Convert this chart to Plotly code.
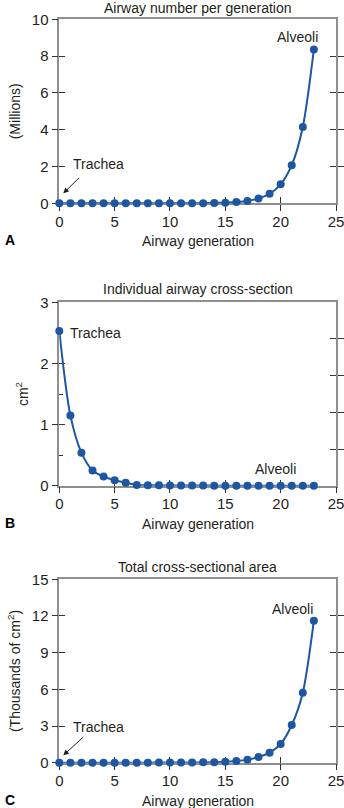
import plotly.graph_objects as go

# Airway generations 0 (trachea) .. 23 (alveoli)
generation = list(range(24))

# Number of airways per generation (millions)
airway_number = [0.0, 0.0, 0.0, 0.0, 0.0, 0.0, 0.0001, 0.0001, 0.0003, 0.0005,
                 0.001, 0.002, 0.004, 0.008, 0.016, 0.033, 0.066, 0.13,
                 0.26, 0.52, 1.03, 2.07, 4.15, 8.36]

# Cross-section of an individual airway (cm^2)
airway_cross_section = [2.53, 1.15, 0.54, 0.25, 0.15, 0.09, 0.05, 0.012,
                        0.008, 0.006, 0.004, 0.003, 0.002, 0.002, 0.001, 0.001,
                        0.001, 0.001, 0.001, 0.0005, 0.0005, 0.0005, 0.0005, 0.0005]

# Total cross-sectional area of each generation (thousands of cm^2)
total_area = [0.0025, 0.0023, 0.0021, 0.002, 0.0025, 0.003, 0.004, 0.005,
              0.006, 0.008, 0.01, 0.015, 0.02, 0.03, 0.045, 0.07, 0.14,
              0.25, 0.46, 0.82, 1.53, 3.08, 5.73, 11.62]

panel_titles = ["Airway number per generation",
                "Individual airway cross-section",
                "Total cross-sectional area"]
y_titles = ["(Millions)", "cm<sup>2</sup>", "(Thousands of cm<sup>2</sup>)"]
x_title = "Airway generation"
panel_letters = ["A", "B", "C"]
y_ranges = [[0, 10], [0, 3], [0, 15]]
y_left_ticks = [[0, 2, 4, 6, 8, 10], [0, 1, 2, 3], [0, 3, 6, 9, 12, 15]]
y_right_ticks = [[2, 4, 6, 8], [0.6, 1.2, 1.8, 2.4], [3, 6, 9, 12]]
x_ticks = [0, 5, 10, 15, 20, 25]
series = [airway_number, airway_cross_section, total_area]

W, H = 344, 808
BLUE = "#1f56a2"
AXIS_GRAY = "#8f8f8f"
TICK_DARK = "#333333"
TEXT = "#231f20"
FONT = "Liberation Sans, Arial, sans-serif"

x_dom = [59.3 / W, 336 / W]
# (top, bottom) pixel rows of each plotting area
rows = [(19.3, 203.3), (302.3, 485.7), (579.3, 762.7)]
title_rows = [8.5, 289.5, 567.0]
y_doms = [[1 - b / H, 1 - t / H] for t, b in rows]

fig = go.Figure()
layout = {}
annotations = []

TL = 6  # tick half-length

for i in range(3):
    n = i + 1
    xm, ym = f"x{n}", f"y{n}"
    xin = f"x{n + 3}"
    yin, yro, yri = f"y{n + 3}", f"y{n + 6}", f"y{n + 9}"

    fig.add_trace(go.Scatter(
        x=generation, y=series[i], mode="lines+markers",
        line=dict(color=BLUE, width=2, shape="spline", smoothing=0.8),
        marker=dict(color=BLUE, size=8),
        cliponaxis=False, showlegend=False, hoverinfo="skip",
        xaxis=xm, yaxis=ym))

    # empty traces so every overlay axis gets its own subplot
    for xa, ya in [(xin, ym), (xm, yin), (xm, yro), (xm, yri)]:
        fig.add_trace(go.Scatter(x=[], y=[], showlegend=False, hoverinfo="skip",
                                 xaxis=xa, yaxis=ya))

    common_x = dict(domain=x_dom, range=[0, 25], showgrid=False, zeroline=False,
                    fixedrange=True, layer="below traces", automargin=False)
    common_y = dict(domain=y_doms[i], range=y_ranges[i], showgrid=False,
                    zeroline=False, fixedrange=True, layer="below traces",
                    automargin=False)

    layout[f"xaxis{n}"] = dict(
        **common_x, anchor=ym, showline=True, linecolor=AXIS_GRAY, linewidth=1.5,
        mirror=True, ticks="outside", ticklen=TL, tickwidth=1.2, tickcolor=TICK_DARK,
        tickmode="array", tickvals=x_ticks, ticklabelstandoff=-2,
        ticklabeloverflow="allow",
        tickfont=dict(family=FONT, size=15, color=TEXT))
    layout[f"xaxis{n + 3}"] = dict(
        **common_x, anchor=ym, overlaying=xm, showline=False, ticks="inside",
        ticklen=TL, tickwidth=1.2, tickcolor=TICK_DARK, tickmode="array",
        tickvals=x_ticks[1:-1], showticklabels=False)

    minor = dict(ticks="inside", ticklen=4, tickwidth=1.2, tickcolor=TICK_DARK,
                 dtick=0.5) if i == 1 else None
    layout[f"yaxis{n}"] = dict(
        **common_y, anchor=xm, showline=True, linecolor=AXIS_GRAY, linewidth=1.5,
        ticks="outside", ticklen=TL, tickwidth=1.2, tickcolor=TICK_DARK,
        tickmode="array", tickvals=y_left_ticks[i], ticklabeloverflow="allow",
        tickfont=dict(family=FONT, size=15, color=TEXT),
        title=dict(text=y_titles[i], font=dict(family=FONT, size=14, color=TEXT),
                   standoff=8))
    yin_ax = dict(
        **common_y, anchor=xm, overlaying=ym, side="left", showline=False,
        ticks="inside", ticklen=TL, tickwidth=1.2, tickcolor=TICK_DARK,
        tickmode="array", tickvals=y_left_ticks[i], showticklabels=False)
    if minor:
        yin_ax["minor"] = minor
    layout[f"yaxis{n + 3}"] = yin_ax
    layout[f"yaxis{n + 6}"] = dict(
        **common_y, anchor=xm, overlaying=ym, side="right", showline=True,
        linecolor=AXIS_GRAY, linewidth=1.5, ticks="outside", ticklen=TL,
        tickwidth=1.2, tickcolor=TICK_DARK, tickmode="array",
        tickvals=y_right_ticks[i], showticklabels=False)
    layout[f"yaxis{n + 9}"] = dict(
        **common_y, anchor=xm, overlaying=ym, side="right", showline=False,
        ticks="inside", ticklen=TL, tickwidth=1.2, tickcolor=TICK_DARK,
        tickmode="array", tickvals=y_right_ticks[i], showticklabels=False)

    top, bottom = rows[i]
    # panel title
    annotations.append(dict(
        text=panel_titles[i], xref="paper", yref="paper",
        x=(x_dom[0] + x_dom[1]) / 2, y=1 - title_rows[i] / H,
        xanchor="center", yanchor="middle", showarrow=False, borderpad=0,
        font=dict(family=FONT, size=14, color=TEXT)))
    # x-axis title
    annotations.append(dict(
        text=x_title, xref="paper", yref="paper",
        x=(x_dom[0] + x_dom[1]) / 2, y=1 - (bottom + 38) / H,
        xanchor="center", yanchor="middle", showarrow=False,
        font=dict(family=FONT, size=14, color=TEXT)))
    # panel letter
    annotations.append(dict(
        text=f"<b>{panel_letters[i]}</b>", xref="paper", yref="paper",
        x=3 / W, y=1 - (bottom + 37) / H, xanchor="left", yanchor="middle",
        showarrow=False, font=dict(family=FONT, size=14, color="#000000")))

lbl = dict(family=FONT, size=14, color=TEXT)

# Panel A labels
annotations += [
    dict(text="Trachea", x=3.5, y=2.14, xref="x1", yref="y1", showarrow=False, font=lbl),
    dict(text="", x=0.36, y=0.54, ax=1.9, ay=1.45, xref="x1", yref="y1",
         axref="x1", ayref="y1", showarrow=True, arrowhead=2, arrowsize=1.1,
         arrowwidth=1, arrowcolor=TEXT),
    dict(text="Alveoli", x=21.5, y=9.05, xref="x1", yref="y1", showarrow=False, font=lbl),
]
# Panel B labels
annotations += [
    dict(text="Trachea", x=0.8, y=2.5, xref="x2", yref="y2", xanchor="left",
         showarrow=False, font=lbl),
    dict(text="Alveoli", x=19.5, y=0.27, xref="x2", yref="y2", showarrow=False, font=lbl),
]
# Panel C labels
annotations += [
    dict(text="Trachea", x=3.5, y=2.95, xref="x3", yref="y3", showarrow=False, font=lbl),
    dict(text="", x=0.36, y=0.6, ax=2.3, ay=2.2, xref="x3", yref="y3",
         axref="x3", ayref="y3", showarrow=True, arrowhead=2, arrowsize=1.1,
         arrowwidth=1, arrowcolor=TEXT),
    dict(text="Alveoli", x=21.1, y=12.6, xref="x3", yref="y3", showarrow=False, font=lbl),
]

fig.update_layout(
    **layout,
    annotations=annotations,
    width=W, height=H,
    margin=dict(l=0, r=0, t=0, b=0),
    paper_bgcolor="white", plot_bgcolor="white",
    showlegend=False,
)

fig.write_html("out.html", config={"displayModeBar": False})
